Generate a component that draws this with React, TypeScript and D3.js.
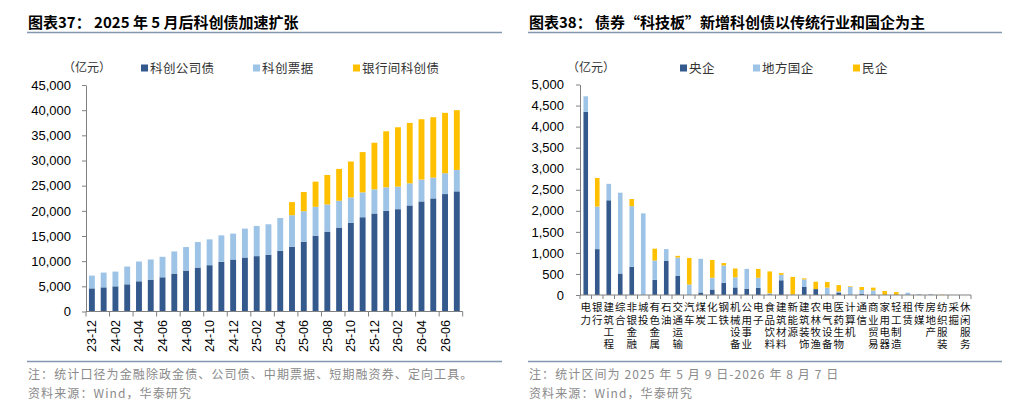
import React, { useEffect, useRef } from 'react';
import * as d3 from 'd3';

// 图表37 数据（亿元）
const months = [
  '23-12', '24-01', '24-02', '24-03', '24-04', '24-05', '24-06', '24-07', '24-08', '24-09', '24-10', '24-11', '24-12',
  '25-01', '25-02', '25-03', '25-04', '25-05', '25-06', '25-07', '25-08', '25-09', '25-10', '25-11', '25-12',
  '26-01', '26-02', '26-03', '26-04', '26-05', '26-06', '26-07',
];
const corpBond = [
  4600, 4800, 5000, 5400, 6000, 6330, 6800, 7530, 8130, 8730, 9200, 9870, 10330,
  10730, 11000, 11270, 12050, 12870, 13870, 15070, 15870, 16670, 17600, 18730, 19470,
  20000, 20330, 21070, 21870, 22470, 23330, 23870,
];
const notes = [
  2530, 2930, 2930, 3530, 3930, 4000, 4070, 4400, 4670, 5070, 5130, 5260, 5140,
  5740, 6000, 6060, 6520, 6260, 6060, 5730, 5400, 5330, 5070, 4940, 4800,
  4670, 4470, 4400, 4330, 4130, 4140, 4260,
];
const bankBond = [
  0, 0, 0, 0, 0, 0, 0, 0, 0, 0, 0, 0, 0,
  0, 0, 0, 0, 2600, 3800, 5000, 5860, 6330, 7130, 8000, 9260,
  11130, 11800, 12000, 12000, 12000, 12000, 11870,
];
const leftTicks = [0, 5000, 10000, 15000, 20000, 25000, 30000, 35000, 40000, 45000];

// 图表38 数据（亿元）
const industries = [
  '电力', '银行', '建筑工程', '综合', '非银金融', '城投', '有色金属', '石油', '交通运输', '汽车', '煤炭', '化工',
  '钢铁', '机械设备', '公用事业', '电子', '食品饮料', '建筑材料', '新能源', '建筑装饰', '农林牧渔', '电气设备',
  '医药生物', '计算机', '通信', '商业贸易', '家用电器', '轻工制造', '租赁', '传媒', '房地产', '纺织服装', '采掘', '休闲服务',
];
const central = [
  4350, 1090, 2250, 510, 670, 0, 360, 810, 460, 10, 60, 130,
  290, 180, 150, 170, 15, 350, 0, 190, 140, 10,
  60, 10, 30, 10, 0, 0, 0, 0, 5, 0, 0, 0,
];
const localSoe = [
  370, 1010, 390, 1920, 1440, 1940, 460, 280, 430, 240, 800, 280,
  410, 240, 470, 240, 25, 130, 10, 180, 0, 165,
  25, 180, 90, 100, 0, 0, 55, 20, 15, 0, 0, 0,
];
const privateEnt = [
  0, 680, 0, 0, 170, 0, 280, 0, 40, 630, 0, 420,
  60, 210, 0, 210, 520, 40, 420, 25, 175, 135,
  150, 15, 70, 65, 95, 70, 0, 0, 0, 8, 0, 0,
];
const rightTicks = [0, 500, 1000, 1500, 2000, 2500, 3000, 3500, 4000, 4500, 5000];

const colors = ['#34598c', '#9dc3e6', '#ffc000'];

export default function App() {
  const svgRef = useRef<SVGSVGElement>(null);

  useEffect(() => {
    if (!svgRef.current) return;
    const svg = d3.select(svgRef.current);
    svg.selectAll('*').remove();

    const cjk = '"Noto Sans CJK SC", "Noto Sans", sans-serif';
    const num = '"Liberation Sans", Arial, sans-serif';
    const axisColor = '#808080';
    const ruleColor = '#8497b0';
    const noteColor = '#8a8a8a';

    // 标题、分隔线、注释
    const frame = (x0: number, x1: number, title: string, note: string) => {
      svg.append('text').attr('x', x0 + 1).attr('y', 28).attr('font-family', cjk).attr('font-size', 15)
        .attr('font-weight', 'bold').attr('fill', '#000').text(title);
      svg.append('line').attr('x1', x0).attr('x2', x1).attr('y1', 32.5).attr('y2', 32.5)
        .attr('stroke', ruleColor).attr('stroke-width', 1.5);
      svg.append('line').attr('x1', x0).attr('x2', x1).attr('y1', 361.5).attr('y2', 361.5)
        .attr('stroke', ruleColor).attr('stroke-width', 1.5);
      svg.append('text').attr('x', x0 + 1).attr('y', 379).attr('font-family', cjk).attr('font-size', 12)
        .attr('letter-spacing', 1.1).attr('fill', noteColor).text(note);
      svg.append('text').attr('x', x0 + 1).attr('y', 398).attr('font-family', cjk).attr('font-size', 12)
        .attr('letter-spacing', 1.1).attr('fill', noteColor).text('资料来源：Wind，华泰研究');
    };
    frame(27, 502, '图表37： 2025 年 5 月后科创债加速扩张', '注：统计口径为金融除政金债、公司债、中期票据、短期融资券、定向工具。');
    frame(528, 1002, '图表38： 债券“科技板”新增科创债以传统行业和国企为主', '注：统计区间为 2025 年 5 月 9 日-2026 年 8 月 7 日');

    const legend = (unitX: number, items: { label: string; x: number; color: string }[]) => {
      svg.append('text').attr('x', unitX).attr('y', 72).attr('font-family', cjk).attr('font-size', 12)
        .attr('fill', '#333').text('（亿元）');
      items.forEach(it => {
        svg.append('rect').attr('x', it.x).attr('y', 64.5).attr('width', 7).attr('height', 7).attr('fill', it.color);
        svg.append('text').attr('x', it.x + 9).attr('y', 72.5).attr('font-family', cjk).attr('font-size', 12.5)
          .attr('letter-spacing', 0.4).attr('fill', '#333').text(it.label);
      });
    };

    const styleAxis = (g: d3.Selection<SVGGElement, unknown, null, undefined>) => {
      g.attr('font-family', num).attr('font-size', 13);
      g.select('.domain').attr('stroke', axisColor);
      g.selectAll('.tick line').attr('stroke', axisColor);
      g.selectAll('.tick text').attr('fill', '#000');
    };

    // ---------- 图表37 ----------
    {
      legend(63, [
        { label: '科创公司债', x: 141, color: colors[0] },
        { label: '科创票据', x: 253, color: colors[1] },
        { label: '银行间科创债', x: 353, color: colors[2] },
      ]);
      const rows = months.map((m, i) => ({ m, a: corpBond[i], b: notes[i], c: bankBond[i] }));
      const series = d3.stack<any>().keys(['a', 'b', 'c'])(rows);
      const x = d3.scaleBand().domain(months).range([86, 462.7]).paddingInner(0.5).paddingOuter(0.25);
      const y = d3.scaleLinear().domain([0, 45000]).range([311.5, 85]);

      const gy = svg.append('g').attr('transform', 'translate(86,0)')
        .call(d3.axisLeft(y).tickValues(leftTicks).tickSize(4).tickSizeOuter(0).tickPadding(11).tickFormat(d3.format(',')));
      styleAxis(gy as any);

      series.forEach((s, k) => {
        svg.append('g').selectAll('rect').data(s).enter().append('rect')
          .attr('x', d => x(d.data.m)!)
          .attr('width', x.bandwidth())
          .attr('y', d => y(d[1]))
          .attr('height', d => Math.max(0, y(d[0]) - y(d[1])))
          .attr('fill', colors[k]);
      });

      const base = y(0);
      svg.append('line').attr('x1', 86).attr('x2', 462.7).attr('y1', base).attr('y2', base).attr('stroke', axisColor);
      const step = x.step();
      for (let i = 0; i <= months.length; i += 2) {
        const tx = 86 + step * i;
        svg.append('line').attr('x1', tx).attr('x2', tx).attr('y1', base).attr('y2', base + 5).attr('stroke', axisColor);
      }
      months.forEach((m, i) => {
        if (i % 2 !== 0) return;
        const cx = x(m)! + x.bandwidth() / 2;
        svg.append('text').attr('transform', `translate(${cx},320) rotate(-90)`)
          .attr('text-anchor', 'end').attr('dy', '0.36em')
          .attr('font-family', num).attr('font-size', 12.5).attr('fill', '#000').text(m);
      });
    }

    // ---------- 图表38 ----------
    {
      legend(567, [
        { label: '央企', x: 680, color: colors[0] },
        { label: '地方国企', x: 753, color: colors[1] },
        { label: '民企', x: 853, color: colors[2] },
      ]);
      const rows = industries.map((n, i) => ({ n, a: central[i], b: localSoe[i], c: privateEnt[i] }));
      const series = d3.stack<any>().keys(['a', 'b', 'c'])(rows);
      const x = d3.scaleBand().domain(industries).range([580, 971]).paddingInner(0.6).paddingOuter(0.3);
      const y = d3.scaleLinear().domain([0, 5000]).range([295, 84.5]);

      const gy = svg.append('g').attr('transform', 'translate(580,0)')
        .call(d3.axisLeft(y).tickValues(rightTicks).tickSize(4).tickSizeOuter(0).tickPadding(12).tickFormat(d3.format(',')));
      styleAxis(gy as any);

      series.forEach((s, k) => {
        svg.append('g').selectAll('rect').data(s).enter().append('rect')
          .attr('x', d => x(d.data.n)!)
          .attr('width', x.bandwidth())
          .attr('y', d => y(d[1]))
          .attr('height', d => Math.max(0, y(d[0]) - y(d[1])))
          .attr('fill', colors[k]);
      });

      const base = y(0);
      svg.append('line').attr('x1', 580).attr('x2', 971).attr('y1', base).attr('y2', base).attr('stroke', axisColor);
      const step = x.step();
      for (let i = 0; i <= industries.length; i++) {
        const tx = 580 + step * i;
        svg.append('line').attr('x1', tx).attr('x2', tx).attr('y1', base).attr('y2', base + 4).attr('stroke', axisColor);
      }
      // 竖排行业名：每个行业一个 text，逐字 tspan
      industries.forEach(n => {
        const cx = x(n)! + x.bandwidth() / 2;
        const t = svg.append('text').attr('text-anchor', 'middle').attr('font-family', cjk)
          .attr('font-size', 10.5).attr('fill', '#111');
        Array.from(n).forEach((ch, j) => {
          t.append('tspan').attr('x', cx).attr('y', 307.5 + j * 12.3).attr('dy', '0.36em').text(ch);
        });
      });
    }
  }, []);

  return (
    <svg ref={svgRef} width={1024} height={414} viewBox="0 0 1024 414"
      style={{ position: 'absolute', left: 0, top: 0, background: '#fff' }}></svg>
  );
}
